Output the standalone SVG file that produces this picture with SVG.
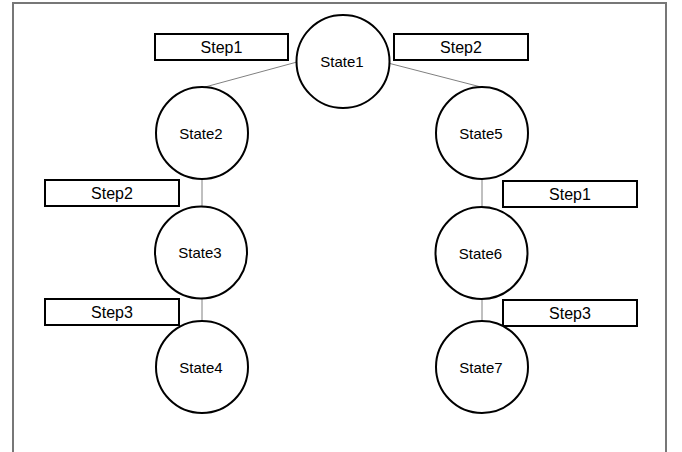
<svg xmlns="http://www.w3.org/2000/svg" width="682" height="452" viewBox="0 0 682 452">
<style>
.frame{fill:none;stroke:#777;stroke-width:2}
.state{fill:#fff;stroke:#000;stroke-width:2}
.step{fill:#fff;stroke:#000;stroke-width:2}
.conn{stroke:#808080;stroke-width:1;fill:none}
.st{font-family:"Liberation Sans",Arial,sans-serif;font-size:15px;fill:#000;text-anchor:middle}
.sp{font-family:"Liberation Sans",Arial,sans-serif;font-size:16px;fill:#000;text-anchor:middle}
</style>
<rect width="682" height="452" fill="#fff"/>
<path class="frame" d="M13,453 V3 H666 V453"/>
<g id="connectors">
<line class="conn" x1="297" y1="62" x2="205" y2="87"/>
<line class="conn" x1="388" y1="63" x2="481" y2="87"/>
<line class="conn" x1="202" y1="179" x2="202" y2="207"/>
<line class="conn" x1="202" y1="298" x2="202" y2="321"/>
<line class="conn" x1="482" y1="179" x2="482" y2="207"/>
<line class="conn" x1="482" y1="299" x2="482" y2="321"/>
</g>
<g id="step1a"><rect class="step" x="155" y="34" width="133" height="26"/><text class="sp" x="221.5" y="53">Step1</text></g>
<g id="step2a"><rect class="step" x="394" y="34" width="134" height="26"/><text class="sp" x="461" y="53">Step2</text></g>
<g id="step2b"><rect class="step" x="45" y="180" width="134" height="26"/><text class="sp" x="112" y="199">Step2</text></g>
<g id="step3a"><rect class="step" x="45" y="299" width="134" height="26"/><text class="sp" x="112" y="318">Step3</text></g>
<g id="step1b"><rect class="step" x="503" y="181" width="134" height="26"/><text class="sp" x="570" y="200">Step1</text></g>
<g id="step3b"><rect class="step" x="503" y="300" width="134" height="26"/><text class="sp" x="570" y="319">Step3</text></g>
<g id="state1"><circle class="state" cx="343" cy="61.5" r="46.5"/><text class="st" x="342" y="67">State1</text></g>
<g id="state2"><circle class="state" cx="202" cy="133" r="46"/><text class="st" x="201" y="138.5">State2</text></g>
<g id="state3"><circle class="state" cx="201" cy="252.5" r="46"/><text class="st" x="200" y="258">State3</text></g>
<g id="state4"><circle class="state" cx="202" cy="367" r="46"/><text class="st" x="201" y="372.5">State4</text></g>
<g id="state5"><circle class="state" cx="482" cy="133" r="46"/><text class="st" x="481" y="138.5">State5</text></g>
<g id="state6"><circle class="state" cx="481.5" cy="253" r="46"/><text class="st" x="480.5" y="258.5">State6</text></g>
<g id="state7"><circle class="state" cx="482" cy="367" r="46"/><text class="st" x="481" y="372.5">State7</text></g>
</svg>
